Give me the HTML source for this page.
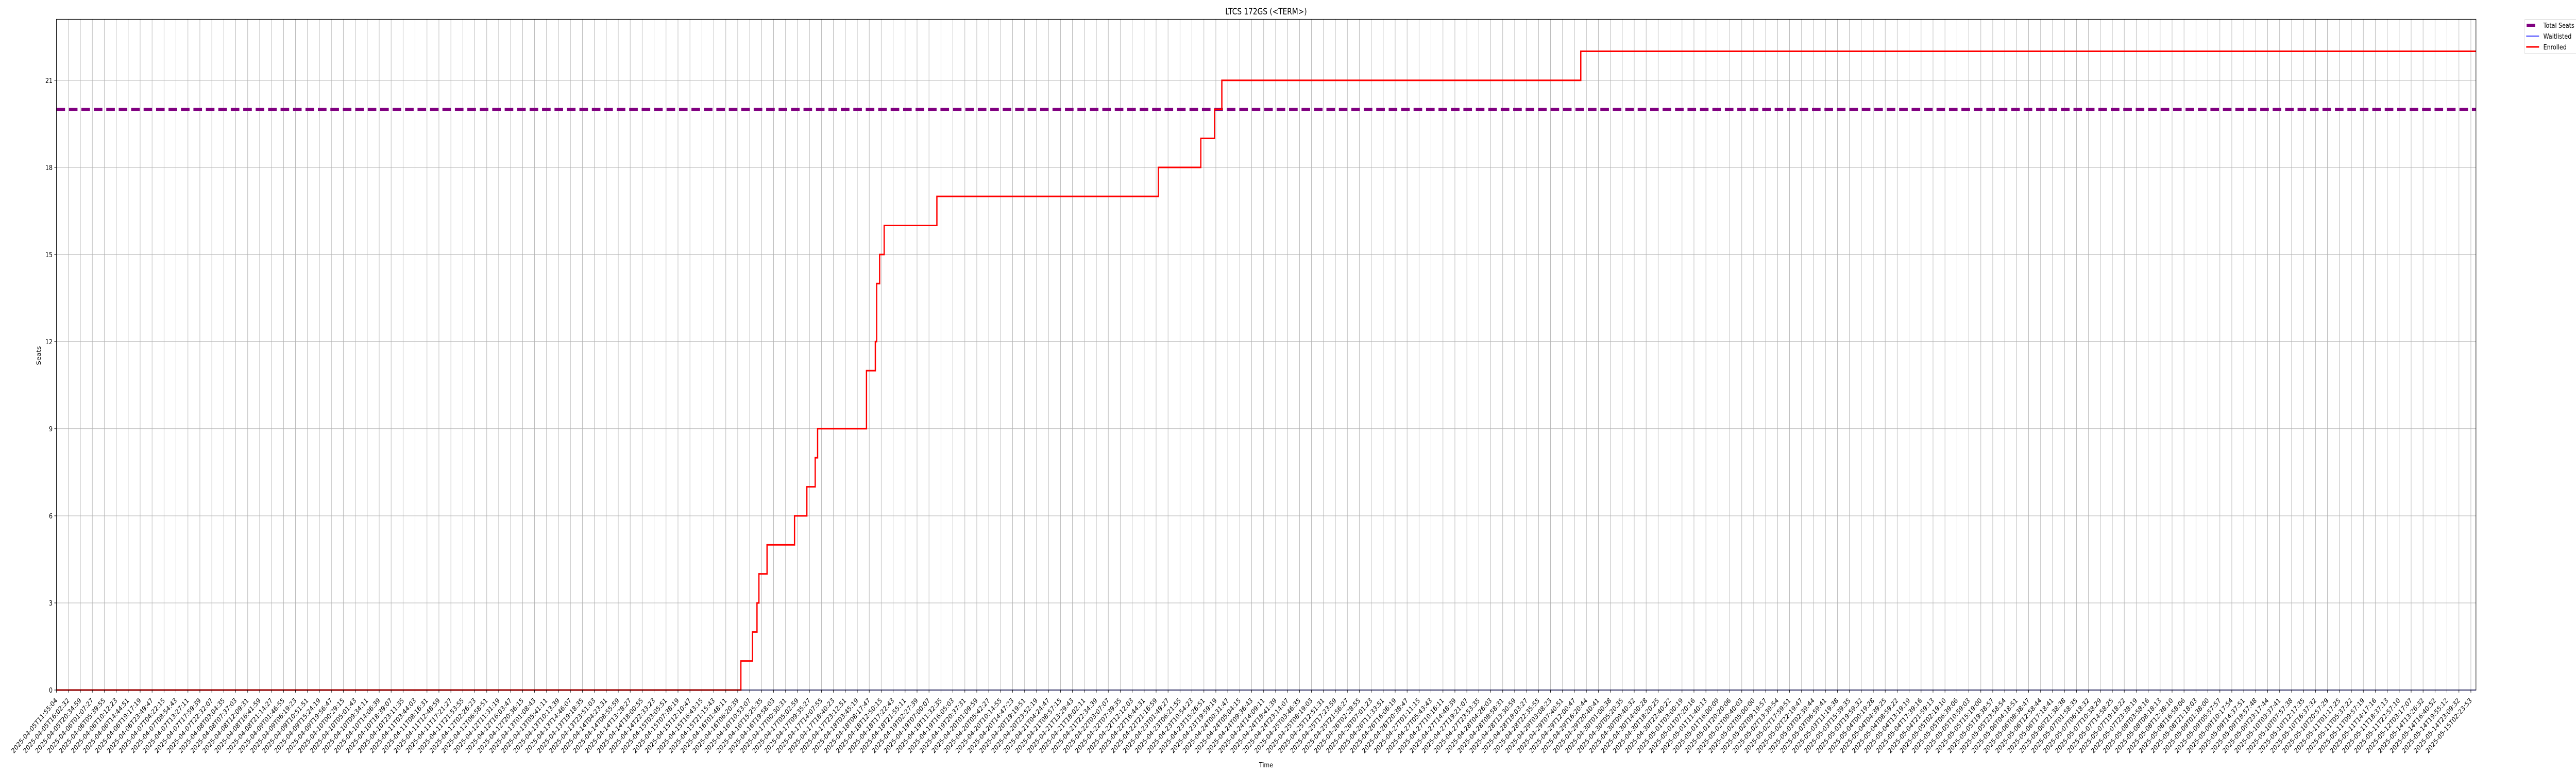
<!DOCTYPE html>
<html><head><meta charset="utf-8">
<style>
html,body{margin:0;padding:0;background:#fff;width:100%;height:100%;overflow:hidden;}
svg{display:block;overflow:hidden;position:fixed;left:0;top:0;width:100vw;height:100vh;}
text{font-family:"DejaVu Sans","Liberation Sans",sans-serif;fill:#000;}
</style></head>
<body>
<svg id="chart" viewBox="0 0 6000 1500" preserveAspectRatio="none" xmlns="http://www.w3.org/2000/svg">
  <rect x="0" y="0" width="6000" height="1500" fill="#fff"/>
  <text x="2949" y="28" font-size="16.5" text-anchor="middle">LTCS 172GS (&lt;TERM&gt;)</text>
  <g id="grid"></g>
  <g id="series"></g>
  <rect x="131.5" y="37.5" width="5635.5" height="1301.5" fill="none" stroke="#000" stroke-width="1.2"/>
  <g id="xaxis"></g>
  <g id="yaxis"></g>
  <text x="2949" y="1489" font-size="13.3" text-anchor="middle">Time</text>
  <text x="0" y="0" font-size="13.3" text-anchor="middle" transform="translate(95,690) rotate(-90)">Seats</text>
  <g>
    <rect x="5879.5" y="37.5" width="140" height="66.5" rx="3" fill="#fff" stroke="#d9d9d9" stroke-width="1"/>
    <line x1="5885" y1="49" x2="5905" y2="49" stroke="#800080" stroke-width="6"/>
    <text x="5924" y="54" font-size="13.3">Total Seats</text>
    <line x1="5884" y1="70" x2="5914" y2="70" stroke="#0000ff" stroke-width="1.5"/>
    <text x="5924" y="75" font-size="13.3">Waitlisted</text>
    <line x1="5884" y1="91" x2="5914" y2="91" stroke="#ff0000" stroke-width="3"/>
    <text x="5924" y="96" font-size="13.3">Enrolled</text>
  </g>
</svg>
<script>
// ---- data ----
const yTicks = [0, 3, 6, 9, 12, 15, 18, 21];
const totalSeats = 20;
// enrollment step changes: position in tick-index units, value after step
const enrolledTimes = [0, 57.26, 58.23, 58.61, 58.77, 59.45, 61.75, 62.78, 63.48, 63.68, 67.77, 68.51, 68.62, 68.87, 69.25, 73.66, 92.19, 95.74, 96.89, 97.50, 127.53];
const enrolledValues = [0, 1, 2, 3, 4, 5, 6, 7, 8, 9, 11, 12, 14, 15, 16, 17, 18, 19, 20, 21, 22];
const waitlistTimes = [0];
const waitlistValues = [0];
// tick-label anchors (index, ISO time) used to label the 203 ticks
const labelAnchorIdx = [0, 1, 126, 197, 198, 202];
const labelAnchorTime = ["2025-04-05T11:55:04", "2025-04-05T16:02:32", "2025-04-29T07:40:51", "2025-05-12T03:17:07", "2025-05-14T13:26:32", "2025-05-15T02:23:53"];
const tickCount = 203;

// ---- scales ----
const X0 = 131.5, DX = 27.84, XMAXIDX = 202.42;
const Y0 = 1339, YMAX = 23.1, YTOP = 37.5;
function xs(i){ return X0 + i * DX; }
function ys(v){ return Y0 - v * (Y0 - YTOP) / YMAX; }
const NS = "http://www.w3.org/2000/svg";
function mk(tag, attrs, parent){
  const e = document.createElementNS(NS, tag);
  for (const k in attrs) e.setAttribute(k, attrs[k]);
  parent.appendChild(e);
  return e;
}
function pad(n){ return String(n).padStart(2, "0"); }
function fmt(ms){
  const d = new Date(ms);
  return d.getUTCFullYear() + "-" + pad(d.getUTCMonth()+1) + "-" + pad(d.getUTCDate()) + "T" + pad(d.getUTCHours()) + ":" + pad(d.getUTCMinutes()) + ":" + pad(d.getUTCSeconds());
}
function labelFor(i){
  for (let k = 0; k < labelAnchorIdx.length - 1; k++){
    const a = labelAnchorIdx[k], b = labelAnchorIdx[k+1];
    if (i >= a && i <= b){
      const ta = Date.parse(labelAnchorTime[k] + "Z"), tb = Date.parse(labelAnchorTime[k+1] + "Z");
      return fmt(ta + (tb - ta) * (i - a) / (b - a));
    }
  }
  return "";
}

const grid = document.getElementById("grid");
const xaxis = document.getElementById("xaxis");
const yaxis = document.getElementById("yaxis");
const series = document.getElementById("series");

for (let i = 0; i < tickCount; i++){
  const x = xs(i);
  const gl = mk("line", {x1:x, y1:YTOP, x2:x, y2:Y0, stroke:"#b0b0b0", "stroke-width":1}, grid);
  
  
  const tk = mk("line", {x1:x, y1:Y0, x2:x, y2:Y0+5, stroke:"#000", "stroke-width":1}, xaxis);
  
  
  const t = mk("text", {x:0, y:0, "font-size":13.3, "text-anchor":"end", transform:"translate(" + (x+3) + "," + (Y0+21) + ") rotate(-45)"}, xaxis);
  t.textContent = labelFor(i);
  
  
}
yTicks.forEach(v => {
  const y = ys(v);
  const gl = mk("line", {x1:X0, y1:y, x2:xs(XMAXIDX), y2:y, stroke:"#b0b0b0", "stroke-width":1}, grid);
  
  
  const tk = mk("line", {x1:X0-5, y1:y, x2:X0, y2:y, stroke:"#000", "stroke-width":1}, yaxis);
  
  
  const t = mk("text", {x:X0-9, y:y+5, "font-size":13.3, "text-anchor":"end"}, yaxis);
  t.textContent = String(v);
  
  
});

// total seats
const ts = mk("line", {x1:X0, y1:ys(totalSeats), x2:xs(XMAXIDX), y2:ys(totalSeats), stroke:"#800080", "stroke-width":6, "stroke-dasharray":"20 9"}, series);



function stepPath(times, vals){
  let d = "M" + xs(times[0]) + "," + ys(vals[0]);
  for (let k = 1; k < times.length; k++){
    d += " H" + xs(times[k]) + " V" + ys(vals[k]);
  }
  d += " H" + xs(XMAXIDX);
  return d;
}
const wl = mk("path", {d:stepPath(waitlistTimes, waitlistValues), fill:"none", stroke:"#0000ff", "stroke-width":1.5}, series);


const en = mk("path", {d:stepPath(enrolledTimes, enrolledValues), fill:"none", stroke:"#ff0000", "stroke-width":3}, series);


</script>
</body></html>
